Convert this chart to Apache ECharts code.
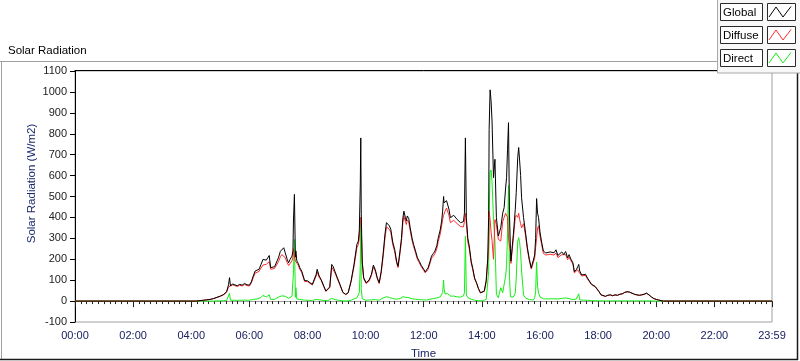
<!DOCTYPE html>
<html>
<head>
<meta charset="utf-8">
<script src="https://cdn.jsdelivr.net/npm/echarts/dist/echarts.min.js"></script>
<style>
html,body{margin:0;padding:0;background:#fff;}
#chart{width:800px;height:361px;}
</style>
</head>
<body>
<div id="chart"></div>
<script>
// Time of day in minutes after midnight
const times = [
0,250,258,265,272,279,286,293,300,307,
313,317,319,321,325,330,335,340,345,350,
355,360,364,368,372,376,380,384,388,392,
395,398,401,404,408,412,416,420,424,427,
431,434,438,441,444,448,450,451,453,455,
456,458,461,464,468,474,480,485,490,494,
498,500,504,508,514,518,522,526,530,533,
537,541,547,553,559,564,570,576,582,585,
587,589,590,591,593,596,601,607,612,616,
620,624,628,632,636,640,643,646,649,652,
656,660,664,667,671,674,677,679,682,684,
686,689,692,696,699,703,707,711,715,720,
723,726,729,733,736,740,743,747,750,754,
757,759,761,762,764,767,769,772,775,779,
782,785,789,792,796,799,802,804,806,808,
811,814,818,821,825,829,833,837,841,845,
849,852,854,855,857,859,861,864,867,870,
874,879,883,886,889,891,893,895,897,899,
900,905,909,911,914,916,918,920,922,926,
930,934,938,942,946,949,951,953,955,957,
960,963,967,972,976,981,985,989,993,997,
1001,1005,1009,1013,1017,1020,1024,1028,1031,1035,
1038,1040,1042,1046,1050,1054,1058,1062,1066,1070,
1074,1078,1082,1086,1090,1095,1100,1105,1110,1115,
1120,1125,1130,1135,1140,1145,1150,1155,1160,1165,
1170,1175,1180,1185,1190,1195,1200,1205,1210,1215,
1439];

const globalRad = [
0,0,2,4,6,8,12,18,24,32,
45,78,112,72,82,78,73,80,76,84,
78,76,92,120,144,150,152,175,199,191,
196,207,218,160,168,164,160,207,238,247,
255,231,200,183,199,215,240,383,510,210,
240,192,180,160,144,98,97,88,80,74,
128,152,120,104,70,48,55,68,175,165,
140,115,80,42,32,40,96,175,271,287,
340,560,780,420,191,112,88,100,128,172,
150,112,88,140,223,320,375,383,360,343,
282,247,190,167,240,300,399,430,400,383,
407,395,351,300,271,240,207,190,170,152,
140,135,159,190,215,228,239,265,303,340,
383,430,500,470,464,480,488,440,399,399,
410,407,390,383,375,368,380,420,780,399,
300,263,190,159,110,88,60,40,40,48,
100,200,400,821,1010,957,861,590,678,399,
311,351,420,447,540,590,726,853,416,250,
191,319,439,520,686,734,670,600,494,400,
330,255,200,159,152,220,300,490,420,399,
330,287,239,230,223,235,228,231,245,218,
215,235,223,237,207,222,200,183,140,150,
165,175,144,125,120,128,110,96,81,75,
70,62,45,30,21,23,28,30,26,30,
28,33,35,42,45,43,38,33,30,28,
30,33,38,30,20,12,8,5,2,0,
0];

const diffuseRad = [
0,0,2,4,6,8,12,17,23,30,
42,68,75,68,77,74,70,76,72,79,
74,72,86,112,134,140,142,158,172,170,
176,180,188,152,160,156,152,188,212,222,
226,208,184,170,178,192,210,250,215,192,
196,182,171,152,137,94,93,85,77,72,
120,140,114,100,67,46,53,65,162,156,
133,110,77,41,31,39,92,165,255,270,
300,390,400,360,180,106,84,95,122,163,
143,107,84,132,208,302,354,362,343,329,
270,237,181,160,228,284,378,405,382,366,
388,378,337,289,261,231,199,183,164,146,
135,130,152,181,204,216,226,250,285,320,
360,390,410,410,430,445,452,410,375,377,
386,385,370,364,356,350,355,380,420,370,
283,250,181,152,106,85,58,39,39,46,
92,185,260,430,390,330,290,200,390,366,
295,287,380,400,420,420,400,300,300,230,
180,300,400,410,400,420,390,370,350,370,
315,245,193,153,147,205,255,300,350,360,
310,275,228,220,213,224,218,220,230,208,
206,222,213,222,198,210,192,176,135,140,
150,140,138,120,116,123,106,93,79,73,
68,60,44,29,20,22,27,29,25,29,
27,32,34,41,44,42,37,32,29,27,
29,32,37,29,19,12,8,5,2,0,
0];

const directRad = [
0,0,0,0,0,0,0,1,1,2,
3,10,37,4,5,4,3,4,4,5,
4,4,6,8,10,10,10,17,27,21,
20,27,30,8,8,8,8,19,26,25,
29,23,16,13,21,23,30,133,295,18,
64,10,9,8,7,4,4,3,3,2,
8,12,6,4,3,2,2,3,13,9,
7,5,3,1,1,1,4,10,16,17,
40,170,380,60,11,6,4,5,6,9,
7,5,4,8,15,18,21,21,17,14,
12,10,9,7,12,16,21,23,18,17,
19,17,14,11,10,9,8,7,6,6,
5,5,7,9,11,12,13,15,18,20,
23,40,100,60,34,35,36,30,24,22,
24,22,20,19,19,18,25,40,310,29,
17,13,9,7,4,3,2,1,1,2,
8,15,140,390,615,627,571,390,287,33,
16,64,40,47,120,170,326,553,116,20,
11,19,39,110,286,303,280,230,144,30,
15,10,7,6,5,15,45,187,70,39,
20,12,11,10,10,11,10,11,15,10,
9,13,10,15,9,12,8,7,5,10,
15,35,6,5,4,5,4,3,2,2,
2,2,1,1,1,1,1,1,1,1,
1,1,1,1,1,1,1,1,1,1,
1,1,1,1,1,0,0,0,0,0,
0];

const seriesNames = ['Global', 'Diffuse', 'Direct'];
const seriesColors = ['#000000', '#ff2b2b', '#14ee14'];
const yMin = -100, yMax = 1100, yStep = 100;
const xMin = 0, xMax = 1439, xStep = 120;

const FONT = 'Liberation Sans';

function pad(n){ return (n < 10 ? '0' : '') + n; }
function fmtTime(m){ return pad(Math.floor(m / 60)) + ':' + pad(Math.round(m % 60)); }

function pairs(vals){ return times.map((t, i) => [t, vals[i]]); }
const seriesValues = [globalRad, diffuseRad, directRad];

// legend (drawn as graphic boxes like the original)
const legendGraphics = [
  { type: 'rect', shape: { x: 717.5, y: -1, width: 84, height: 74 },
    style: { fill: '#f7f7f7', stroke: '#a8a8a8', lineWidth: 1 }, z: 100 }
];
seriesNames.forEach((name, i) => {
  const y0 = 3.5 + i * 23;
  legendGraphics.push(
    { type: 'rect', shape: { x: 720.5, y: y0, width: 42, height: 17 },
      style: { fill: '#ffffff', stroke: '#2a2a2a', lineWidth: 1 }, z: 101 },
    { type: 'text', x: 723, y: y0 + 9,
      style: { text: name, fill: '#000', font: '11.5px "' + FONT + '"', textVerticalAlign: 'middle' }, z: 102 },
    { type: 'rect', shape: { x: 767.5, y: y0, width: 28, height: 17 },
      style: { fill: '#ffffff', stroke: '#2a2a2a', lineWidth: 1 }, z: 101 },
    { type: 'polyline', shape: { points: [[769, y0 + 13.5], [776, y0 + 3.5], [783, y0 + 13.5], [791, y0 + 3]] },
      style: { stroke: seriesColors[i], lineWidth: 1, fill: null }, z: 102 }
  );
});

const frameGraphics = [
  { type: 'line', shape: { x1: 0, y1: 61.5, x2: 718, y2: 61.5 }, style: { stroke: '#a0a0a0', lineWidth: 1 }, z: 50 },
  { type: 'line', shape: { x1: 1.5, y1: 61.5, x2: 1.5, y2: 359 }, style: { stroke: '#a0a0a0', lineWidth: 1 }, z: 50 },
  { type: 'line', shape: { x1: 0, y1: 359.5, x2: 798, y2: 359.5 }, style: { stroke: '#1a1a1a', lineWidth: 1.5 }, z: 50 },
  { type: 'line', shape: { x1: 797.5, y1: 73, x2: 797.5, y2: 360 }, style: { stroke: '#1a1a1a', lineWidth: 1.5 }, z: 50 },
  { type: 'line', shape: { x1: 74.5, y1: 70.5, x2: 772, y2: 70.5 }, style: { stroke: '#000', lineWidth: 1 }, z: 50 }
];

const chart = echarts.init(document.getElementById('chart'), null, { renderer: 'canvas' });
chart.setOption({
  animation: false,
  backgroundColor: '#ffffff',
  textStyle: { fontFamily: FONT },
  title: {
    text: 'Solar Radiation', left: 3, top: 40,
    textStyle: { fontSize: 11.5, fontWeight: 'normal', color: '#000', fontFamily: FONT }
  },
  grid: {
    left: 75, top: 71, right: 28, bottom: 39,
    containLabel: false, outerBoundsMode: 'none',
    show: true, borderColor: '#a0a0a0', borderWidth: 1, backgroundColor: '#fff'
  },
  xAxis: {
    type: 'value', min: xMin, max: xMax, interval: xStep,
    name: 'Time', nameLocation: 'middle', nameGap: 26, nameMoveOverlap: false,
    nameTextStyle: { fontSize: 11.5, color: '#1b2566', fontFamily: FONT },
    axisLine: { show: true, lineStyle: { color: '#a0a0a0', width: 1 } },
    axisTick: { show: true, length: 6, lineStyle: { color: '#222' } },
    minorTick: { show: true, splitNumber: 10, length: 3, lineStyle: { color: '#222' } },
    splitLine: { show: false },
    axisLabel: {
      fontSize: 11, color: '#1b2060', margin: 8, fontFamily: FONT,
      showMinLabel: true, showMaxLabel: true, hideOverlap: false,
      formatter: v => fmtTime(v)
    }
  },
  yAxis: {
    type: 'value', min: yMin, max: yMax, interval: yStep,
    name: 'Solar Radiation (W/m2)', nameLocation: 'middle', nameGap: 37, nameMoveOverlap: false,
    nameTextStyle: { fontSize: 11.5, color: '#1b2a6b', fontFamily: FONT, padding: [0, 0, 0, 26] },
    axisLine: { show: true, lineStyle: { color: '#000', width: 1 } },
    axisTick: { show: true, length: 5, lineStyle: { color: '#000' } },
    splitLine: { show: false },
    axisLabel: { fontSize: 11, color: '#222', margin: 8, fontFamily: FONT, formatter: v => String(v) }
  },
  graphic: frameGraphics.concat(legendGraphics),
  series: seriesNames.map((name, i) => ({
    name: name,
    type: 'line',
    data: pairs(seriesValues[i]),
    showSymbol: false,
    symbol: 'none',
    sampling: null,
    z: 5 - i,
    lineStyle: { color: seriesColors[i], width: 1 },
    itemStyle: { color: seriesColors[i] },
    emphasis: { disabled: true }
  }))
});
</script>
</body>
</html>
